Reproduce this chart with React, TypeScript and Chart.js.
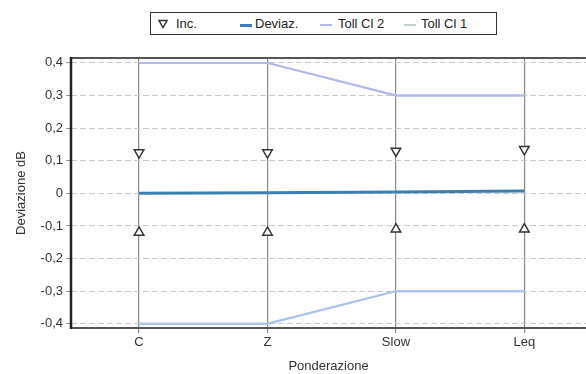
import React, { useEffect, useRef } from 'react';
import { Chart, registerables } from 'chart.js';
Chart.register(...registerables);

const categories = ['C', 'Z', 'Slow', 'Leq'];
const yTickValues = [-0.4, -0.3, -0.2, -0.1, 0, 0.1, 0.2, 0.3, 0.4];
const deviaz = [0, 0.002, 0.004, 0.007];
const incUpper = [0.125, 0.125, 0.13, 0.135];
const incLower = [-0.12, -0.12, -0.11, -0.11];
const tollCl2Upper = [0.4, 0.4, 0.3, 0.3];
const tollCl2Lower = [-0.4, -0.4, -0.3, -0.3];
const tollCl1Upper = [0.4, 0.4, 0.3, 0.3];
const tollCl1Lower = [-0.4, -0.4, -0.3, -0.3];

const FONT = '"Liberation Sans", Arial, sans-serif';
const TEXT = '#333';
const COL_DEV = '#3b80b0';
const COL_CL2 = '#b4b8f0';
const COL_CL1 = '#a8c6ee';

const pts = (vals: number[]) => vals.map((v, i) => ({ x: i, y: v }));

const framePlugin = {
  id: 'frame',
  afterDatasetsDraw(chart: any) {
    const { ctx, chartArea: a } = chart;
    ctx.save();
    ctx.strokeStyle = '#555';
    ctx.lineWidth = 2;
    ctx.beginPath();
    ctx.moveTo(a.left, a.top);
    ctx.lineTo(a.right, a.top);
    ctx.moveTo(a.left, a.bottom);
    ctx.lineTo(a.right, a.bottom);
    ctx.stroke();
    ctx.strokeStyle = '#222';
    ctx.lineWidth = 2.5;
    ctx.beginPath();
    ctx.moveTo(a.left, a.top - 1);
    ctx.lineTo(a.left, a.bottom + 1);
    ctx.stroke();
    ctx.restore();
  },
};

function Tri() {
  return (
    <svg width="10" height="10" style={{ position: 'absolute', left: 7, top: 6 }}>
      <polygon points="1,1.5 9,1.5 5,8.5" fill="white" stroke="#333" strokeWidth="1.4" />
    </svg>
  );
}

export default function App() {
  const ref = useRef<HTMLCanvasElement>(null);
  useEffect(() => {
    if (!ref.current) return;
    const chart = new Chart(ref.current, {
      type: 'line',
      data: {
        datasets: [
          { label: 'Toll Cl 1 +', data: pts(tollCl1Upper), borderColor: COL_CL1, borderWidth: 2, pointRadius: 0, order: 6 },
          { label: 'Toll Cl 2 +', data: pts(tollCl2Upper), borderColor: COL_CL2, borderWidth: 2, pointRadius: 0, order: 5 },
          { label: 'Toll Cl 2 -', data: pts(tollCl2Lower), borderColor: COL_CL2, borderWidth: 2, pointRadius: 0, order: 6 },
          { label: 'Toll Cl 1 -', data: pts(tollCl1Lower), borderColor: COL_CL1, borderWidth: 2, pointRadius: 0, order: 5 },
          { label: 'Deviaz.', data: pts(deviaz), borderColor: COL_DEV, borderWidth: 3, pointRadius: 0, order: 3 },
          {
            label: 'Inc. +', data: pts(incUpper), showLine: false, pointStyle: 'triangle', rotation: 180,
            pointRadius: 5.5, pointBorderWidth: 1.5, pointBorderColor: '#333', pointBackgroundColor: '#fff', order: 1,
          },
          {
            label: 'Inc. -', data: pts(incLower), showLine: false, pointStyle: 'triangle', rotation: 0,
            pointRadius: 5.5, pointBorderWidth: 1.5, pointBorderColor: '#333', pointBackgroundColor: '#fff', order: 1,
          },
        ],
      },
      options: {
        responsive: false,
        animation: false,
        layout: { autoPadding: false, padding: { top: 58, left: 0, right: 0, bottom: 0 } },
        plugins: { legend: { display: false }, tooltip: { enabled: false } },
        scales: {
          x: {
            type: 'linear',
            min: -0.53,
            max: 3.48,
            afterBuildTicks: (s: any) => { s.ticks = categories.map((_, i) => ({ value: i })); },
            afterFit: (s: any) => { s.height = 46; s.paddingLeft = 0; s.paddingRight = 0; },
            ticks: {
              callback: (v: any) => categories[v] ?? '',
              color: TEXT, font: { family: FONT, size: 13 }, padding: 2, maxRotation: 0,
            },
            grid: { color: '#888', lineWidth: 1.2, tickLength: 5, tickColor: '#888' },
            border: { display: false },
            title: { display: true, text: 'Ponderazione', color: TEXT, font: { family: FONT, size: 13 }, padding: { top: 0, bottom: 0 } },
          },
          y: {
            type: 'linear',
            min: -0.413,
            max: 0.415,
            afterBuildTicks: (s: any) => { s.ticks = yTickValues.map((v) => ({ value: v })); },
            afterFit: (s: any) => { s.width = 71; s.paddingTop = 0; s.paddingBottom = 0; },
            ticks: {
              callback: (v: any) => (Math.abs(v) < 1e-9 ? '0' : String(Math.round(v * 10) / 10).replace('.', ',')),
              color: TEXT, font: { family: FONT, size: 13 }, padding: 3,
            },
            grid: { color: '#c8c8c8', lineWidth: 1, tickLength: 5, tickColor: '#999', drawTicks: true },
            border: { display: false, dash: [6, 3] },
            title: { display: true, text: 'Deviazione dB', color: TEXT, font: { family: FONT, size: 13 }, padding: { top: 14, bottom: 0 } },
          },
        },
      },
      plugins: [framePlugin],
    } as any);
    return () => chart.destroy();
  }, []);

  const txt: React.CSSProperties = { position: 'absolute', top: 3, fontFamily: FONT, fontSize: 13, color: '#222', whiteSpace: 'nowrap' };
  const line = (left: number, color: string, h = 2): React.CSSProperties => ({ position: 'absolute', left, top: 11, width: 12, height: h, background: color });

  return (
    <div style={{ position: 'fixed', left: 0, top: 0, width: 586, height: 374, background: '#fff' }}>
      <canvas ref={ref} width={586} height={374} style={{ position: 'absolute', left: 0, top: 0 }} />
      <div style={{ position: 'absolute', left: 150, top: 12, width: 347, height: 23, boxSizing: 'border-box', border: '1.5px solid #333', background: '#fff' }}>
        <Tri />
        <span style={{ ...txt, left: 25 }}>Inc.</span>
        <div style={line(89, COL_DEV, 3)} />
        <span style={{ ...txt, left: 104 }}>Deviaz.</span>
        <div style={line(169, COL_CL2)} />
        <span style={{ ...txt, left: 187 }}>Toll Cl 2</span>
        <div style={line(253, '#c4d2cc')} />
        <span style={{ ...txt, left: 270 }}>Toll Cl 1</span>
      </div>
    </div>
  );
}
